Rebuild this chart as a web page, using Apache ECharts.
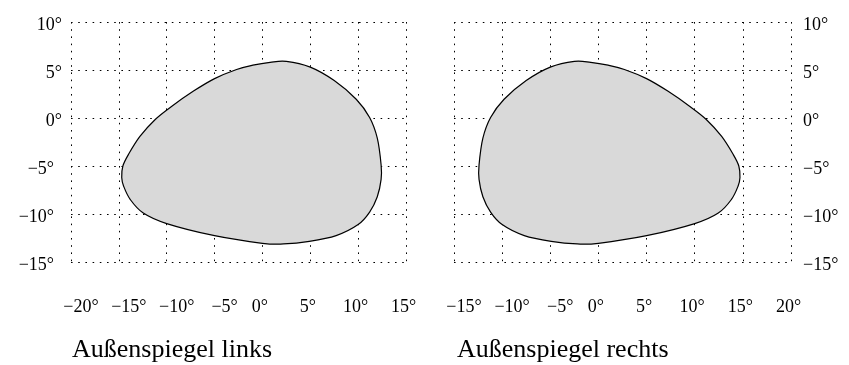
<!DOCTYPE html>
<html>
<head>
<meta charset="utf-8">
<script src="https://cdn.jsdelivr.net/npm/echarts@6/dist/echarts.min.js"></script>
<style>
  html, body { margin: 0; padding: 0; background: #fff; }
  #chart { width: 849px; height: 365px; }
</style>
</head>
<body>
<div id="chart"></div>
<script>
// outline of the visible field in degrees
const leftX = [-14.7, -14.58, -14.0, -12.8, -11.2, -9.5, -7.2, -5.0, -2.7, -1.0, 0.8, 2.5, 5.0, 7.5, 9.8, 11.2, 12.0, 12.4, 12.4, 12.0, 11.2, 10.0, 7.7, 4.9, 2.2, 0.0, -5.0, -10.0, -12.45, -13.8, -14.5];
const leftY = [-6.2, -5.0, -3.8, -1.92, -0.15, 1.2, 2.8, 4.1, 5.05, 5.5, 5.8, 5.9, 5.3, 3.9, 1.95, 0.05, -2.1, -4.9, -6.4, -8.2, -9.8, -11.1, -12.25, -12.85, -13.12, -13.05, -12.26, -11.0, -9.9, -8.5, -7.1];

const rightX = [14.7, 14.58, 14.0, 12.8, 11.2, 9.5, 7.2, 5.0, 2.7, 1.0, -0.8, -2.5, -5.0, -7.5, -9.8, -11.2, -12.0, -12.4, -12.4, -12.0, -11.2, -10.0, -7.7, -4.9, -2.2, 0.0, 5.0, 10.0, 12.45, 13.8, 14.5];
const rightY = [-6.2, -5.0, -3.8, -1.92, -0.15, 1.2, 2.8, 4.1, 5.05, 5.5, 5.8, 5.9, 5.3, 3.9, 1.95, 0.05, -2.1, -4.9, -6.4, -8.2, -9.8, -11.1, -12.25, -12.85, -13.12, -13.05, -12.26, -11.0, -9.9, -8.5, -7.1];

const leftRange = [-20, 15];
const rightRange = [-15, 20];
const yRange = [-15, 10];
const titles = ['Außenspiegel links', 'Außenspiegel rechts'];

const chart = echarts.init(document.getElementById('chart'));

const font = 'Liberation Serif';
const deg = (v) => (v < 0 ? '\u2212' + Math.abs(v) : '' + v) + '°';
const base = { color: '#000', fontFamily: font, fontSize: 18 };

const dotted = { color: '#000', width: 1, type: [1.6, 5.6] };

function xAxis(gridIndex, range) {
  return {
    type: 'value', gridIndex, min: range[0], max: range[1], interval: 5,
    axisLine: { show: false }, axisTick: { show: false },
    splitLine: { show: true, lineStyle: dotted },
    axisLabel: {
      ...base, margin: 36,
      formatter: (v) => v < 0 ? '{n|' + deg(v) + '}' : '{p|' + deg(v) + '}',
      rich: { n: { ...base, padding: [0, 0, 0, 20] }, p: { ...base, padding: [0, 5, 0, 0] } },
    },
  };
}
function yAxis(gridIndex, position) {
  const left = position === 'left';
  return {
    type: 'value', gridIndex, position, min: yRange[0], max: yRange[1], interval: 5,
    axisLine: { show: false }, axisTick: { show: false },
    splitLine: { show: true, lineStyle: dotted },
    axisLabel: {
      ...base, margin: left ? 9 : 12,
      formatter: (v) => v < 0 ? '{n|' + deg(v) + '}' : '{p|' + deg(v) + '}',
      rich: {
        n: { ...base, padding: [6, left ? 8 : 0, 0, 0] },
        p: { ...base, padding: [6, 0, 0, 0] },
      },
    },
  };
}

// closed Catmull-Rom outline through the points, in pixel space
function outline(pts) {
  const n = pts.length;
  let d = 'M' + pts[0][0] + ' ' + pts[0][1];
  for (let i = 0; i < n; i++) {
    const p0 = pts[(i - 1 + n) % n], p1 = pts[i], p2 = pts[(i + 1) % n], p3 = pts[(i + 2) % n];
    const c1 = [p1[0] + (p2[0] - p0[0]) / 6, p1[1] + (p2[1] - p0[1]) / 6];
    const c2 = [p2[0] - (p3[0] - p1[0]) / 6, p2[1] - (p3[1] - p1[1]) / 6];
    d += 'C' + c1[0] + ' ' + c1[1] + ' ' + c2[0] + ' ' + c2[1] + ' ' + p2[0] + ' ' + p2[1];
  }
  return d + 'Z';
}

function shape(xs, ys, idx) {
  return {
    type: 'custom', xAxisIndex: idx, yAxisIndex: idx,
    data: xs.map((x, i) => [x, ys[i]]),
    clip: false,
    renderItem(params, api) {
      if (params.dataIndex !== 0) return null;
      const pts = xs.map((x, i) => api.coord([x, ys[i]]));
      return {
        type: 'path',
        shape: { pathData: outline(pts) },
        style: { fill: '#d9d9d9', stroke: '#000', lineWidth: 1.2 },
      };
    },
  };
}

const titleStyle = { fontFamily: font, fontSize: 26, fontWeight: 'normal', color: '#000' };

chart.setOption({
  animation: false,
  title: [
    { text: titles[0], left: 67, top: 332, textStyle: titleStyle },
    { text: titles[1], left: 452, top: 332, textStyle: titleStyle },
  ],
  grid: [
    { left: 71, top: 22, width: 335, height: 240 },
    { left: 454, top: 22, width: 337, height: 240 },
  ],
  xAxis: [xAxis(0, leftRange), xAxis(1, rightRange)],
  yAxis: [yAxis(0, 'left'), yAxis(1, 'right')],
  series: [shape(leftX, leftY, 0), shape(rightX, rightY, 1)],
});
</script>
</body>
</html>
